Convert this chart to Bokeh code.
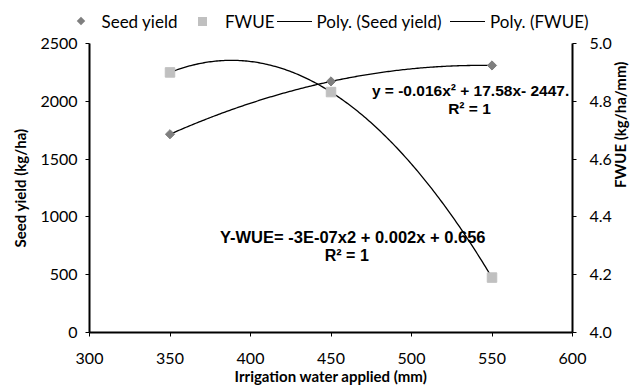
import numpy as np
from bokeh.plotting import figure
from bokeh.layouts import column
from bokeh.models import (Range1d, LinearAxis, FixedTicker, PrintfTickFormatter,
                          Label, Div)
from bokeh.embed import file_html
from bokeh.resources import INLINE

# ---- data ----
irrigation = [350, 450, 550]
seed_yield = [1715, 2172, 2310]
fwue = [4.90, 4.832, 4.19]
x_ticks = [300, 350, 400, 450, 500, 550, 600]
y_ticks = [0, 500, 1000, 1500, 2000, 2500]
y2_ticks = [4.0, 4.2, 4.4, 4.6, 4.8, 5.0]
eq_seed = "y = -0.016x² + 17.58x- 2447."
eq_fwue = "Y-WUE= -3E-07x2 + 0.002x + 0.656"
r2_text = "R² = 1"
legend_labels = ["Seed yield", "FWUE", "Poly. (Seed yield)", "Poly. (FWUE)"]

TICK_FONT = "Lato"
EQ_FONT = "Liberation Sans"
SEED_COLOR = "#7f7f7f"
FWUE_COLOR = "#c0c0c0"

# ---------------- main chart ----------------
p = figure(width=640, height=359, output_backend="svg", toolbar_location=None,
           x_range=Range1d(300, 600), y_range=Range1d(0, 2500),
           min_border_left=89, min_border_right=66, min_border_top=13,
           min_border_bottom=57)
p.extra_y_ranges = {"fwue": Range1d(4.0, 5.0)}
p.outline_line_color = None
p.grid.visible = False

right = LinearAxis(y_range_name="fwue", axis_label="FWUE (kg/ha/mm)")
p.add_layout(right, "right")
try:
    right.axis_label_orientation = np.pi / 2
except Exception:
    pass

p.xaxis.ticker = FixedTicker(ticks=x_ticks)
p.yaxis[0].ticker = FixedTicker(ticks=y_ticks)
right.ticker = FixedTicker(ticks=y2_ticks)
right.formatter = PrintfTickFormatter(format="%.1f")
p.xaxis.axis_label = "Irrigation water applied (mm)"
p.yaxis[0].axis_label = "Seed yield (kg/ha)"

for ax in [p.xaxis[0], p.yaxis[0], right]:
    ax.axis_line_color = "black"
    ax.axis_line_width = 2
    ax.major_tick_line_color = "black"
    ax.major_tick_line_width = 1
    ax.major_tick_out = 4
    ax.major_tick_in = 0
    ax.minor_tick_line_color = None
    ax.major_label_text_font = TICK_FONT
    ax.major_label_text_font_size = "16px"
    ax.major_label_text_color = "black"
    ax.axis_label_text_font = TICK_FONT
    ax.axis_label_text_font_size = "15px"
    ax.axis_label_text_font_style = "bold"
    ax.axis_label_text_color = "black"

p.xaxis[0].major_label_standoff = 16
p.xaxis[0].axis_label_standoff = 0
p.yaxis[0].major_label_standoff = 8
p.yaxis[0].axis_label_standoff = 8
right.major_label_standoff = 13
right.axis_label_standoff = 5

# trendlines (quadratic fits through the data)
xs = np.linspace(min(irrigation), max(irrigation), 200)
c1 = np.polyfit(irrigation, seed_yield, 2)
c2 = np.polyfit(irrigation, fwue, 2)
p.line(xs, np.polyval(c1, xs), line_color="black", line_width=1.3)
p.line(xs, np.polyval(c2, xs), line_color="black", line_width=1.3,
       y_range_name="fwue")

p.scatter(irrigation, seed_yield, marker="square", angle=np.pi / 4, size=6.5,
          fill_color=SEED_COLOR, line_color=SEED_COLOR)
p.scatter(irrigation, fwue, marker="square", size=9.5,
          fill_color=FWUE_COLOR, line_color=FWUE_COLOR, y_range_name="fwue")

for txt, x, y, fs in [(eq_seed, 536.7, 2096, "15.5px"), (r2_text, 536.0, 1941, "15.5px"),
                      (eq_fwue, 463.5, 828, "16.5px"), (r2_text, 459.8, 664, "16px")]:
    p.add_layout(Label(x=x, y=y, text=txt, text_align="center",
                       text_baseline="middle", text_font=EQ_FONT,
                       text_font_size=fs, text_font_style="bold",
                       text_color="black"))

# ---------------- legend strip (HTML) ----------------
def txt(left, s):
    return (f'<span style="position:absolute;left:{left}px;top:13px;'
            f'line-height:17px;white-space:nowrap">{s}</span>')

def box(left, top, w, h, color, rot=False):
    tr = "transform:rotate(45deg);" if rot else ""
    return (f'<div style="position:absolute;left:{left}px;top:{top}px;'
            f'width:{w}px;height:{h}px;background:{color};{tr}"></div>')

parts = [
    box(77.5, 18, 6, 6, SEED_COLOR, rot=True), txt(101.5, legend_labels[0]),
    box(197.5, 16.8, 9, 9, FWUE_COLOR), txt(225, legend_labels[1]),
    box(276.7, 20.6, 35, 1.3, "black"), txt(316.5, legend_labels[2]),
    box(450, 20.6, 35, 1.3, "black"), txt(490, legend_labels[3]),
]
html = ('<div style="position:relative;width:640px;height:30px;'
        'font-family:Lato;font-size:17px;color:black">' + "".join(parts) +
        '</div>')
legend_div = Div(text=html, width=640, height=30, margin=0)

layout = column(legend_div, p, spacing=0)
open("out.html", "w").write(file_html(layout, INLINE))
